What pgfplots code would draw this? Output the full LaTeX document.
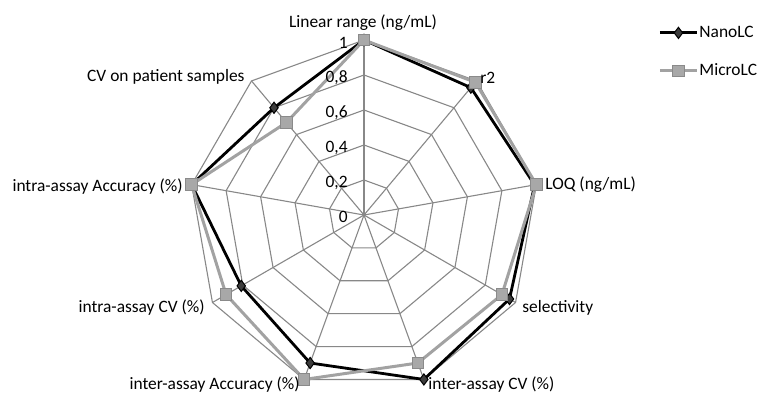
\documentclass[border=0pt]{standalone}
\usepackage{fontspec}
\setmainfont{Carlito}
\usepackage{pgfplots}
\pgfplotsset{compat=1.18}
\definecolor{gridgray}{HTML}{888888}
\definecolor{microline}{HTML}{A2A2A2}
\definecolor{microfill}{HTML}{A8A8A8}
\definecolor{microedge}{HTML}{8A8A8A}
\definecolor{nanofill}{HTML}{3C3C3C}
\begin{document}
\begin{tikzpicture}[every node/.style={font=\fontsize{8.7}{10}\selectfont}]
\path[use as bounding box] (-182pt,107.5pt) rectangle (197pt,-90.5pt);
\begin{axis}[
  anchor=origin, at={(0pt,0pt)},
  scale only axis, width=175pt, height=175pt,
  xmin=-1, xmax=1, ymin=-1, ymax=1,
  hide axis, clip=false,
  legend style={at={(axis description cs:1.323,1.06)}, anchor=north west,
    draw=none, fill=none, row sep=9.5pt, column sep=0pt,
    font=\fontsize{8.7}{10}\selectfont,
    nodes={inner sep=0.5pt, text height=6.5pt, text depth=2pt}},
  legend cell align=left,
  legend image code/.code={\draw[mark repeat=2,mark phase=2,#1] plot coordinates {(0pt,0pt)(9.25pt,0pt)(18.5pt,0pt)};},
]
% web: spokes
\foreach \a in {90,50,10,-30,-70,-110,-150,-190,-230} {
  \edef\temp{\noexpand\addplot[gridgray, line width=0.55pt, forget plot, data cs=polar] coordinates {(\a,0) (\a,1)};}
  \temp
}
% web: rings
\foreach \r in {0.2,0.4,0.6,0.8,1.0} {
  \edef\temp{\noexpand\addplot[gridgray, line width=0.55pt, forget plot, data cs=polar] coordinates {(90,\r) (50,\r) (10,\r) (-30,\r) (-70,\r) (-110,\r) (-150,\r) (-190,\r) (-230,\r) (-270,\r)};}
  \temp
}
% NanoLC
\addplot[black, line width=1.4pt, mark=diamond*, mark size=2.8pt,
  mark options={fill=nanofill, draw=black, line width=0.5pt}, data cs=polar]
  coordinates {(90,1.00) (50,0.95) (10,0.99) (-30,0.96) (-70,1.00) (-110,0.90) (-150,0.81) (-190,1.00) (-230,0.80) (-270,1.00)};
\addlegendentry{NanoLC}
% MicroLC
\addplot[microline, line width=1.5pt, mark=square*, mark size=2.9pt,
  mark options={fill=microfill, draw=microedge, line width=0.5pt}, data cs=polar]
  coordinates {(90,1.00) (50,0.99) (10,1.00) (-30,0.91) (-70,0.90) (-110,1.00) (-150,0.91) (-190,1.00) (-230,0.69) (-270,1.00)};
\addlegendentry{MicroLC}
\end{axis}
% radial tick labels
\begin{scope}[every node/.append style={inner sep=0pt, anchor=east}]
\node at (-8pt,86pt) {1};
\node at (-8pt,68.5pt) {0,8};
\node at (-8pt,51pt) {0,6};
\node at (-8pt,33.5pt) {0,4};
\node at (-8pt,16pt) {0,2};
\node at (-8pt,-1pt) {0};
\end{scope}
% category labels
\begin{scope}[every node/.append style={inner sep=0pt, text height=6.5pt, text depth=2pt}]
\node[anchor=center] at (-0.5pt,96pt) {Linear range (ng/mL)};
\node[anchor=west] at (58pt,68pt) {r2};
\node[anchor=west] at (90.5pt,15pt) {LOQ (ng/mL)};
\node[anchor=west] at (79pt,-46.5pt) {selectivity};
\node[anchor=west] at (32pt,-85pt) {inter-assay CV (\%)};
\node[anchor=east] at (-32pt,-85pt) {inter-assay Accuracy (\%)};
\node[anchor=east] at (-79.5pt,-46.5pt) {intra-assay CV (\%)};
\node[anchor=east] at (-90.5pt,14pt) {intra-assay Accuracy (\%)};
\node[anchor=east] at (-59.5pt,69pt) {CV on patient samples};
\end{scope}
\end{tikzpicture}
\end{document}
